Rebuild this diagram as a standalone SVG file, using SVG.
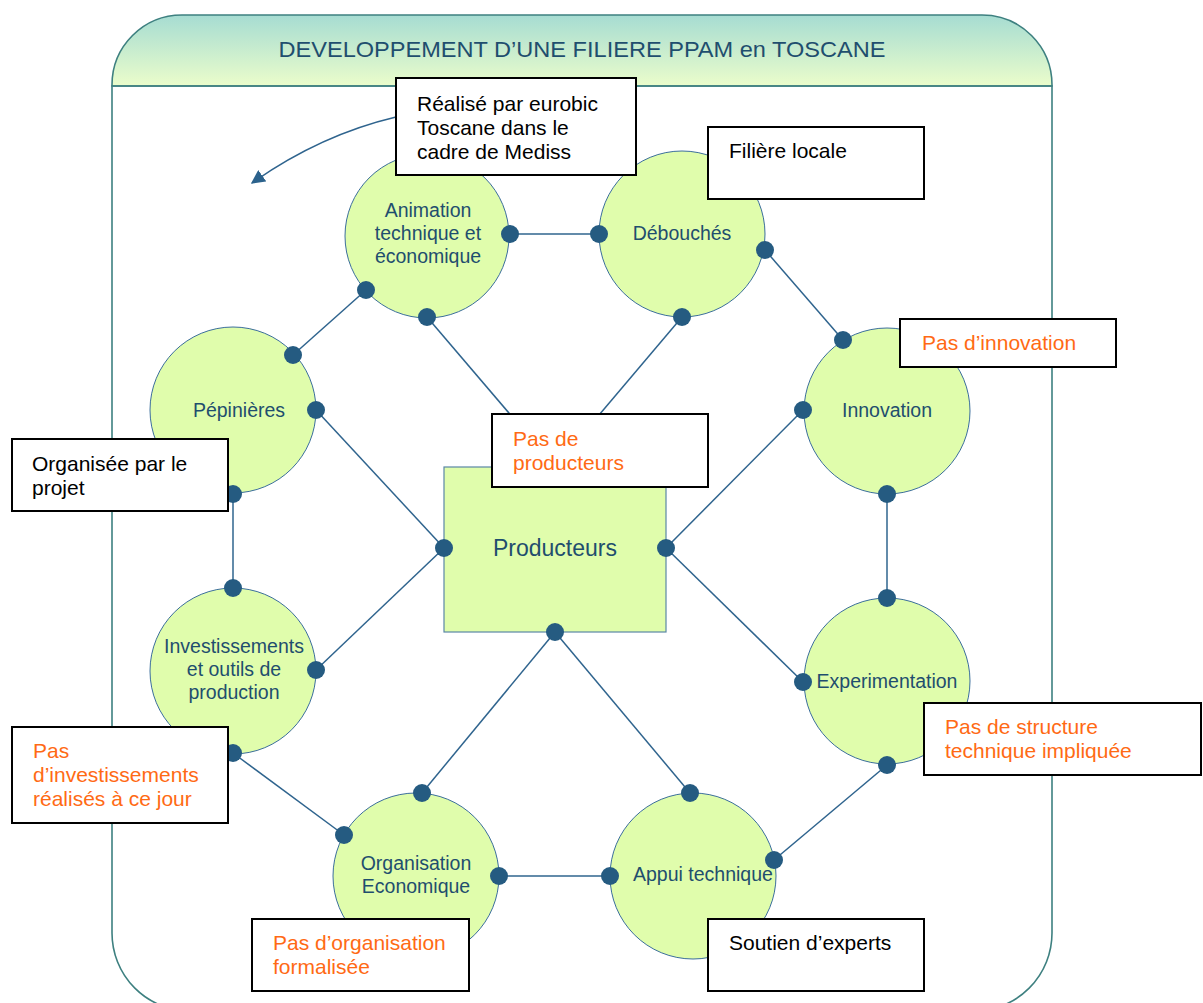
<svg xmlns="http://www.w3.org/2000/svg" width="1203" height="1003" viewBox="0 0 1203 1003">
  <defs>
    <linearGradient id="hdr" x1="0" y1="0" x2="0" y2="1">
      <stop offset="0" stop-color="#a6dcd2"/>
      <stop offset="1" stop-color="#ebfdcb"/>
    </linearGradient>
    <marker id="arrow" viewBox="0 0 10 10" refX="9" refY="5" markerWidth="14" markerHeight="14" markerUnits="userSpaceOnUse" orient="auto">
      <path d="M0,0 L10,5 L0,10 z" fill="#2b628c"/>
    </marker>
    <style>
      .frame { fill: none; stroke: #3e8080; stroke-width: 1.6; }
      .node { fill: #e0fdac; stroke: #3b6e9c; stroke-width: 1; }
      .conn { stroke: #2f648e; stroke-width: 1.5; fill: none; }
      .dot { fill: #255b81; }
      .lbl { font-family: "Liberation Sans", Arial, sans-serif; font-size: 19.5px; fill: #1f4e6e; text-anchor: middle; }
      .box { fill: #ffffff; stroke: #000000; stroke-width: 2; }
      .note { font-family: "Liberation Sans", Arial, sans-serif; font-size: 21px; fill: #000000; }
      .warn { font-family: "Liberation Sans", Arial, sans-serif; font-size: 21px; fill: #ff6a14; }
    </style>
  </defs>

  <g id="frame">
    <path d="M112,86 L112,85 A70,70 0 0 1 182,15 L982,15 A70,70 0 0 1 1052,85 L1052,86 Z" fill="url(#hdr)" stroke="#3e8080" stroke-width="1.6"/>
    <path class="frame" d="M112,86 L112,933 A78,78 0 0 0 190,1011 L974,1011 A78,78 0 0 0 1052,933 L1052,86 Z"/>
    <text x="582" y="57" font-family="Liberation Sans, Arial, sans-serif" font-size="22.5" fill="#1f4e6e" text-anchor="middle" textLength="607" lengthAdjust="spacingAndGlyphs">DEVELOPPEMENT D’UNE FILIERE PPAM en TOSCANE</text>
  </g>

  <g id="connectors">
    <line class="conn" x1="510" y1="234" x2="599" y2="234"/>
    <line class="conn" x1="366" y1="290" x2="293" y2="355"/>
    <line class="conn" x1="427" y1="317" x2="555" y2="467"/>
    <line class="conn" x1="682" y1="317" x2="555" y2="467"/>
    <line class="conn" x1="765" y1="250" x2="843" y2="340"/>
    <line class="conn" x1="316" y1="410" x2="444" y2="548"/>
    <line class="conn" x1="803" y1="410" x2="666" y2="548"/>
    <line class="conn" x1="233" y1="494" x2="233" y2="588"/>
    <line class="conn" x1="887" y1="494" x2="887" y2="598"/>
    <line class="conn" x1="316" y1="670" x2="444" y2="548"/>
    <line class="conn" x1="803" y1="682" x2="666" y2="548"/>
    <line class="conn" x1="555" y1="632" x2="422" y2="793"/>
    <line class="conn" x1="555" y1="632" x2="690" y2="793"/>
    <line class="conn" x1="233" y1="753" x2="344" y2="835"/>
    <line class="conn" x1="499" y1="876" x2="610" y2="876"/>
    <line class="conn" x1="774" y1="860" x2="887" y2="765"/>
    <path class="conn" d="M396,117 Q320,135 252,183" marker-end="url(#arrow)"/>
  </g>

  <g id="node-animation">
    <circle class="node" cx="427" cy="236" r="82"/>
    <text class="lbl" x="428" y="217">Animation</text>
    <text class="lbl" x="428" y="240">technique et</text>
    <text class="lbl" x="428" y="263">économique</text>
  </g>
  <g id="node-debouches">
    <circle class="node" cx="682" cy="234" r="83"/>
    <text class="lbl" x="682" y="240">Débouchés</text>
  </g>
  <g id="node-pepinieres">
    <circle class="node" cx="233" cy="410" r="83"/>
    <text class="lbl" x="239" y="417">Pépinières</text>
  </g>
  <g id="node-innovation">
    <circle class="node" cx="887" cy="411" r="83"/>
    <text class="lbl" x="887" y="417">Innovation</text>
  </g>
  <g id="node-investissements">
    <circle class="node" cx="233" cy="671" r="83"/>
    <text class="lbl" x="234" y="653">Investissements</text>
    <text class="lbl" x="234" y="676">et outils de</text>
    <text class="lbl" x="234" y="699">production</text>
  </g>
  <g id="node-experimentation">
    <circle class="node" cx="887" cy="681" r="83"/>
    <text class="lbl" x="887" y="688">Experimentation</text>
  </g>
  <g id="node-organisation">
    <circle class="node" cx="416" cy="876" r="83"/>
    <text class="lbl" x="416" y="870">Organisation</text>
    <text class="lbl" x="416" y="893">Economique</text>
  </g>
  <g id="node-appui">
    <circle class="node" cx="693" cy="876" r="83"/>
    <text class="lbl" x="633" y="881" style="text-anchor:start">Appui technique</text>
  </g>
  <g id="node-producteurs">
    <rect x="444" y="467" width="222" height="165" fill="#e0fdac" stroke="#5a87a6" stroke-width="1.2"/>
    <text x="555" y="556" font-family="Liberation Sans, Arial, sans-serif" font-size="23" fill="#1f4e6e" text-anchor="middle">Producteurs</text>
  </g>

  <g id="dots">
    <circle class="dot" cx="510" cy="234" r="9"/>
    <circle class="dot" cx="599" cy="234" r="9"/>
    <circle class="dot" cx="366" cy="290" r="9"/>
    <circle class="dot" cx="293" cy="355" r="9"/>
    <circle class="dot" cx="427" cy="317" r="9"/>
    <circle class="dot" cx="682" cy="317" r="9"/>
    <circle class="dot" cx="555" cy="467" r="9"/>
    <circle class="dot" cx="765" cy="250" r="9"/>
    <circle class="dot" cx="843" cy="340" r="9"/>
    <circle class="dot" cx="316" cy="410" r="9"/>
    <circle class="dot" cx="444" cy="548" r="9"/>
    <circle class="dot" cx="803" cy="410" r="9"/>
    <circle class="dot" cx="666" cy="548" r="9"/>
    <circle class="dot" cx="233" cy="494" r="9"/>
    <circle class="dot" cx="233" cy="588" r="9"/>
    <circle class="dot" cx="887" cy="494" r="9"/>
    <circle class="dot" cx="887" cy="598" r="9"/>
    <circle class="dot" cx="316" cy="670" r="9"/>
    <circle class="dot" cx="803" cy="682" r="9"/>
    <circle class="dot" cx="555" cy="632" r="9"/>
    <circle class="dot" cx="422" cy="793" r="9"/>
    <circle class="dot" cx="690" cy="793" r="9"/>
    <circle class="dot" cx="233" cy="753" r="9"/>
    <circle class="dot" cx="344" cy="835" r="9"/>
    <circle class="dot" cx="499" cy="876" r="9"/>
    <circle class="dot" cx="610" cy="876" r="9"/>
    <circle class="dot" cx="774" cy="860" r="9"/>
    <circle class="dot" cx="887" cy="765" r="9"/>
  </g>

  <g id="note-realise">
    <rect class="box" x="396" y="78" width="240" height="97"/>
    <text class="note" x="417" y="111">Réalisé par eurobic</text>
    <text class="note" x="417" y="135">Toscane dans le</text>
    <text class="note" x="417" y="159">cadre de Mediss</text>
  </g>
  <g id="note-filiere">
    <rect class="box" x="708" y="127" width="216" height="72"/>
    <text class="note" x="729" y="158">Filière locale</text>
  </g>
  <g id="note-innovation">
    <rect class="box" x="900" y="319" width="216" height="48"/>
    <text class="warn" x="922" y="350">Pas d’innovation</text>
  </g>
  <g id="note-producteurs">
    <rect class="box" x="492" y="414" width="216" height="73"/>
    <text class="warn" x="513" y="446">Pas de</text>
    <text class="warn" x="513" y="470">producteurs</text>
  </g>
  <g id="note-organisee">
    <rect class="box" x="12" y="439" width="216" height="72"/>
    <text class="note" x="32" y="471">Organisée par le</text>
    <text class="note" x="32" y="495">projet</text>
  </g>
  <g id="note-investissements">
    <rect class="box" x="12" y="727" width="216" height="96"/>
    <text class="warn" x="33" y="758">Pas</text>
    <text class="warn" x="33" y="782">d’investissements</text>
    <text class="warn" x="33" y="806">réalisés à ce jour</text>
  </g>
  <g id="note-structure">
    <rect class="box" x="924" y="703" width="277" height="72"/>
    <text class="warn" x="945" y="734">Pas de structure</text>
    <text class="warn" x="945" y="758">technique impliquée</text>
  </g>
  <g id="note-organisation">
    <rect class="box" x="252" y="919" width="217" height="72"/>
    <text class="warn" x="273" y="950">Pas d’organisation</text>
    <text class="warn" x="273" y="974">formalisée</text>
  </g>
  <g id="note-experts">
    <rect class="box" x="708" y="919" width="216" height="72"/>
    <text class="note" x="729" y="950">Soutien d’experts</text>
  </g>
</svg>
